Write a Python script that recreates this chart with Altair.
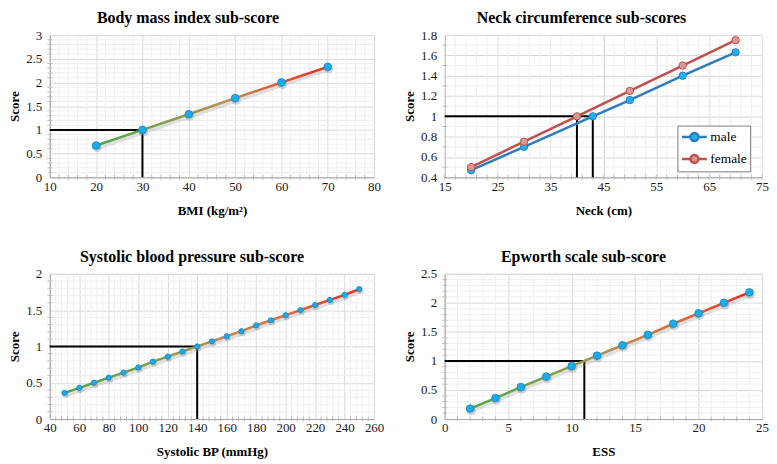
import altair as alt
import pandas as pd
import numpy as np

FONT = "Liberation Serif"

# ---------------- data ----------------
bmi_x = [20, 30, 40, 50, 60, 70]
bmi_y = [0.67, 1.00, 1.33, 1.67, 2.00, 2.33]
bmi_cut = [30]

neck_male_x = [20, 30, 43, 50, 60, 70]
neck_male_y = [0.47, 0.70, 1.00, 1.16, 1.40, 1.63]
neck_female_x = [20, 30, 40, 50, 60, 70]
neck_female_y = [0.50, 0.75, 1.00, 1.25, 1.50, 1.75]
neck_cut = [40, 43]

sbp_x = [50, 60, 70, 80, 90, 100, 110, 120, 130, 140, 150, 160, 170, 180, 190, 200, 210, 220, 230, 240, 250]
sbp_y = [0.36, 0.43, 0.50, 0.57, 0.64, 0.71, 0.79, 0.86, 0.93, 1.00, 1.07, 1.14, 1.21, 1.29, 1.36, 1.43, 1.50, 1.57, 1.64, 1.71, 1.79]
sbp_cut = [140]

ess_x = [2, 4, 6, 8, 10, 12, 14, 16, 18, 20, 22, 24]
ess_y = [0.18, 0.36, 0.55, 0.73, 0.91, 1.09, 1.27, 1.45, 1.64, 1.82, 2.00, 2.18]
ess_cut = [11]

sexes = ["male", "female"]
sex_line_colors = ["#2e7cc0", "#c0504d"]
sex_fill_colors = ["#1fb2ef", "#d99795"]

GRAD = alt.LinearGradient(
    gradient="linear", x1=0, x2=1, y1=0, y2=0,
    stops=[
        alt.GradientStop(color="#4aa84a", offset=0),
        alt.GradientStop(color="#8c9c4c", offset=0.35),
        alt.GradientStop(color="#bf8a52", offset=0.55),
        alt.GradientStop(color="#dc6436", offset=0.78),
        alt.GradientStop(color="#e8291c", offset=1),
    ],
)

LABEL_EXPR = "format(datum.value, '~g')"


def minor_vals(lo, hi, step, major):
    vals = []
    for v in np.arange(lo, hi + step / 2, step):
        v = round(float(v), 6)
        if abs(v / major - round(v / major)) > 1e-6:
            vals.append(v)
    return vals


def make_axes(xtitle, xmaj, ymaj):
    common = dict(
        labelFont=FONT, labelFontSize=13, labelColor="#1a1a1a",
        titleFont=FONT, titleFontSize=13, titleFontWeight="bold", titleColor="#000000",
        ticks=False, domainColor="#a6a6a6", gridColor="#d9d9d9", grid=True,
        labelExpr=LABEL_EXPR, labelFlush=False, labelOverlap=False,
    )
    xa = alt.Axis(values=xmaj, title=xtitle, labelPadding=3, titlePadding=11, **common)
    ya = alt.Axis(values=ymaj, title="Score", labelPadding=8, titlePadding=4, **common)
    return xa, ya


def panel(title, tdx, xtitle, xdom, xmaj, xstep, ydom, ymaj, ystep, w, h, series_layers, cuts):
    xa, ya = make_axes(xtitle, xmaj, ymaj)
    xs = alt.Scale(domain=xdom, nice=False, zero=False)
    ys = alt.Scale(domain=ydom, nice=False, zero=False)
    X = lambda f="x": alt.X(f"{f}:Q", scale=xs, axis=xa)
    Y = lambda f="y": alt.Y(f"{f}:Q", scale=ys, axis=ya)

    xm = pd.DataFrame({"x": minor_vals(xdom[0], xdom[1], xstep, xmaj[1] - xmaj[0])})
    ym = pd.DataFrame({"y": minor_vals(ydom[0], ydom[1], ystep, ymaj[1] - ymaj[0])})
    gx = alt.Chart(xm).mark_rule(color="#efefef", strokeWidth=1).encode(x=X())
    gy = alt.Chart(ym).mark_rule(color="#efefef", strokeWidth=1).encode(y=Y())
    # minor tick marks crossing the axis lines
    tx = alt.Chart(xm).mark_tick(color="#a6a6a6", size=5, thickness=1, orient="vertical").encode(
        x=X(), y=alt.YDatum(datum=ydom[0], type="quantitative", scale=ys, axis=ya))
    ty = alt.Chart(ym).mark_tick(color="#a6a6a6", size=5, thickness=1, orient="horizontal").encode(
        y=Y(), x=alt.XDatum(datum=xdom[0], type="quantitative", scale=xs, axis=xa))

    hdf = pd.DataFrame({"x": [xdom[0]], "x2": [max(cuts)], "y": [1.0]})
    vdf = pd.DataFrame({"x": cuts, "y": [ydom[0]] * len(cuts), "y2": [1.0] * len(cuts)})
    hl = alt.Chart(hdf).mark_rule(color="#000000", strokeWidth=2).encode(x=X(), x2="x2:Q", y=Y())
    vl = alt.Chart(vdf).mark_rule(color="#000000", strokeWidth=2).encode(x=X(), y=Y(), y2="y2:Q")

    layers = [gx, gy, tx, ty, hl, vl] + series_layers(X, Y)
    return alt.layer(*layers).properties(
        width=w, height=h,
        title=alt.TitleParams(title, font=FONT, fontSize=16, fontWeight="bold", color="#000000",
                              anchor="middle", dx=tdx, offset=3),
    )


def gradient_series(xs_, ys_, size):
    df = pd.DataFrame({"x": xs_, "y": ys_})

    def f(X, Y):
        shadow = alt.Chart(df).mark_line(stroke="#8c8c8c", strokeWidth=5, opacity=0.25, yOffset=2, xOffset=1).encode(x=X(), y=Y())
        line = alt.Chart(df).mark_line(stroke=GRAD, strokeWidth=2.5).encode(x=X(), y=Y())
        pshadow = alt.Chart(df).mark_circle(color="#7a7a7a", opacity=0.3, size=size * 1.5, xOffset=1, yOffset=2).encode(x=X(), y=Y())
        pts = alt.Chart(df).mark_point(filled=True, fill="#1aabe8", stroke="#1787c8", strokeWidth=0.8,
                                       size=size, opacity=1).encode(x=X(), y=Y())
        return [shadow, line, pshadow, pts]
    return f


LEG_PATH = "M-1,0L0.22,0M1.36,0L2.57,0M0.22,0A0.57,0.57,0,1,0,1.36,0A0.57,0.57,0,1,0,0.22,0Z"


def neck_series(X, Y):
    male = pd.DataFrame({"x": neck_male_x, "y": neck_male_y, "sex": "male"})
    female = pd.DataFrame({"x": neck_female_x, "y": neck_female_y, "sex": "female"})
    both = pd.concat([male, female])
    leg = alt.Legend(
        orient="none", legendX=234, legendY=91, title=None,
        symbolType=LEG_PATH, symbolSize=196, symbolStrokeWidth=2.5, symbolOpacity=1,
        labelFont=FONT, labelFontSize=13.5, labelColor="#000000", labelOffset=13,
        strokeColor="#7f7f7f", fillColor="#ffffff", padding=3, rowPadding=3,
    )
    stroke_enc = alt.Stroke("sex:N", scale=alt.Scale(domain=sexes, range=sex_line_colors), legend=leg)
    fill_enc = alt.Fill("sex:N", scale=alt.Scale(domain=sexes, range=sex_fill_colors), legend=leg)
    lines = alt.Chart(both).mark_line(strokeWidth=2.5).encode(x=X(), y=Y(), detail="sex:N", stroke=stroke_enc)
    pts = alt.Chart(both).mark_point(filled=True, strokeWidth=1, size=55, opacity=1).encode(
        x=X(), y=Y(), fill=fill_enc, stroke=stroke_enc)
    return [lines, pts]


p1 = panel("Body mass index sub-score", -24, "BMI (kg/m²)", [10, 80], [10, 20, 30, 40, 50, 60, 70, 80], 2,
           [0, 3], [0, 0.5, 1, 1.5, 2, 2.5, 3], 0.1, 326, 143, gradient_series(bmi_x, bmi_y, 60), bmi_cut)
p2 = panel("Neck circumference sub-scores", -22, "Neck (cm)", [15, 75], [15, 25, 35, 45, 55, 65, 75], 2,
           [0.4, 1.8], [0.4, 0.6, 0.8, 1.0, 1.2, 1.4, 1.6, 1.8], 0.1, 319, 143, neck_series, neck_cut)
p3 = panel("Systolic blood pressure sub-score", -20, "Systolic BP (mmHg)", [40, 260],
           [40, 60, 80, 100, 120, 140, 160, 180, 200, 220, 240, 260], 4,
           [0, 2], [0, 0.5, 1, 1.5, 2], 0.1, 326, 146, gradient_series(sbp_x, sbp_y, 28), sbp_cut)
p4 = panel("Epworth scale sub-score", -20, "ESS", [0, 25], [0, 5, 10, 15, 20, 25], 1,
           [0, 2.5], [0, 0.5, 1, 1.5, 2, 2.5], 0.1, 319, 146, gradient_series(ess_x, ess_y, 60), ess_cut)

chart = alt.concat(p1, p2, p3, p4, columns=2, bounds="flush", spacing={"row": 97, "column": 71}).resolve_scale(
    stroke="independent", fill="independent").resolve_legend(stroke="independent", fill="independent").properties(
    padding=0
).configure_view(stroke=None).configure_axis(
    labelFont=FONT, titleFont=FONT
).configure_title(font=FONT).configure(background="#ffffff")

chart.save("out.html", embed_options={"renderer": "svg", "actions": False})
